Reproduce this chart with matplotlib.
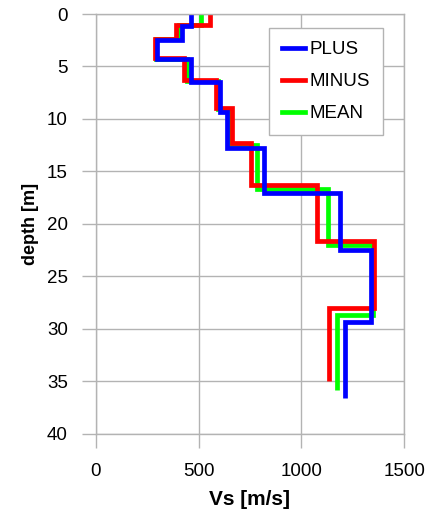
import matplotlib.pyplot as plt
import numpy as np
from matplotlib.lines import Line2D

plt.rcParams['font.family'] = ['Liberation Sans', 'DejaVu Sans']

# layer boundaries [m] and shear-wave velocities [m/s] for each profile
plus_depth = [0, 1.1, 2.45, 4.3, 6.45, 9.3, 12.8, 17.1, 22.5, 29.4, 36.6]
plus_vs = [464, 418, 296, 464, 603, 639, 818, 1186, 1340, 1213]

minus_depth = [0, 1.05, 2.4, 4.2, 6.3, 9.0, 12.3, 16.3, 21.6, 28.0, 35.0]
minus_vs = [558, 388, 288, 431, 587, 665, 754, 1076, 1353, 1133]

mean_depth = [0, 1.08, 2.42, 4.25, 6.4, 9.1, 12.5, 16.7, 22.0, 28.7, 35.8]
mean_vs = [511, 403, 292, 446, 595, 652, 786, 1131, 1348, 1173]

fig = plt.figure(figsize=(4.37, 5.13), dpi=100)
ax = fig.add_axes([0.219, 0.1546, 0.706, 0.8181])

lw = 3.4
# mean underneath, plus on top
ax.stairs(mean_vs, mean_depth, orientation='horizontal', baseline=None,
          color='#00ff00', lw=lw)
ax.stairs(minus_vs, minus_depth, orientation='horizontal', baseline=None,
          color='#ff0000', lw=lw)
ax.stairs(plus_vs, plus_depth, orientation='horizontal', baseline=None,
          color='#0000ff', lw=lw)

ax.set_xlim(0, 1500)
ax.set_ylim(40, 0)
ax.set_xticks(np.arange(0, 1501, 500))
ax.set_yticks(np.arange(0, 41, 5))
ax.grid(True, color='#b3b3b3', lw=1)
ax.set_axisbelow(True)
for s in ax.spines.values():
    s.set_color('#b3b3b3')
    s.set_linewidth(1)
ax.tick_params(length=10, width=1, color='#b3b3b3', labelsize=13.5)
ax.tick_params(axis='x', pad=11)
ax.tick_params(axis='y', pad=10)

ax.set_xlabel('Vs [m/s]', fontsize=15, fontweight='bold', labelpad=7)
ax.set_ylabel('depth [m]', fontsize=13, fontweight='bold', labelpad=6)

handles = [Line2D([], [], color='#0000ff', lw=lw),
           Line2D([], [], color='#ff0000', lw=lw),
           Line2D([], [], color='#00ff00', lw=lw)]
leg = ax.legend(handles, ['PLUS', 'MINUS', 'MEAN'], loc='upper left',
                bbox_to_anchor=(0.562, 0.967), fontsize=13.5, fancybox=False,
                edgecolor='#b3b3b3', framealpha=1, handlelength=1.2,
                handletextpad=0.25, labelspacing=0.8, borderpad=0.7,
                borderaxespad=0)
leg.get_frame().set_linewidth(1)

fig.savefig('out.png', dpi=100)
